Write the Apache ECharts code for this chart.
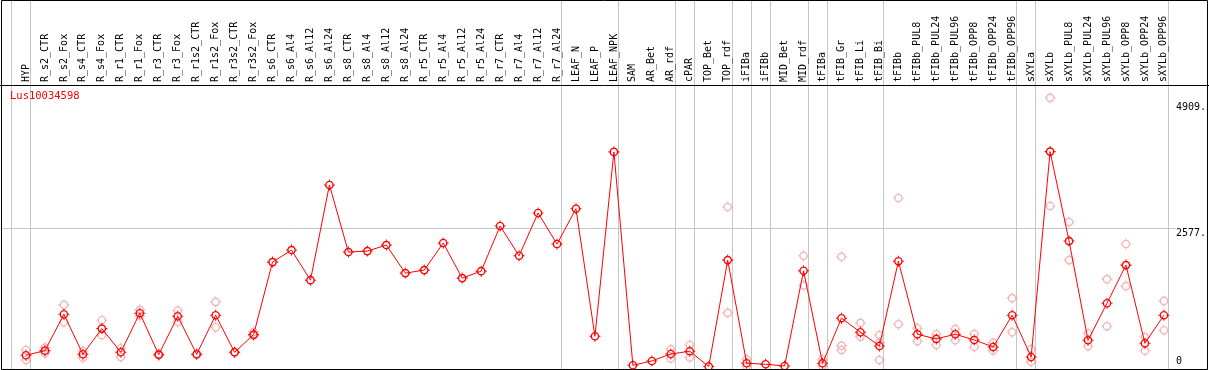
<!DOCTYPE html>
<html>
<head>
<meta charset="utf-8">
<script src="https://cdn.jsdelivr.net/npm/echarts@6/dist/echarts.min.js"></script>
<style>
html,body{margin:0;padding:0;background:#fff;}
#chart{width:1209px;height:370px;}
</style>
</head>
<body>
<div id="chart"></div>
<script>
const geneId = 'Lus10034598';
const categories = ['HYP','R_s2_CTR','R_s2_Fox','R_s4_CTR','R_s4_Fox','R_r1_CTR','R_r1_Fox','R_r3_CTR','R_r3_Fox','R_r1s2_CTR','R_r1s2_Fox','R_r3s2_CTR','R_r3s2_Fox','R_s6_CTR','R_s6_Al4','R_s6_Al12','R_s6_Al24','R_s8_CTR','R_s8_Al4','R_s8_Al12','R_s8_Al24','R_r5_CTR','R_r5_Al4','R_r5_Al12','R_r5_Al24','R_r7_CTR','R_r7_Al4','R_r7_Al12','R_r7_Al24','LEAF_N','LEAF_P','LEAF_NPK','SAM','AR_Bet','AR_rdf','cPAR','TOP_Bet','TOP_rdf','iFIBa','iFIBb','MID_Bet','MID_rdf','tFIBa','tFIB_Gr','tFIB_Li','tFIB_Bi','tFIBb','tFIBb_PUL8','tFIBb_PUL24','tFIBb_PUL96','tFIBb_OPP8','tFIBb_OPP24','tFIBb_OPP96','sXYLa','sXYLb','sXYLb_PUL8','sXYLb_PUL24','sXYLb_PUL96','sXYLb_OPP8','sXYLb_OPP24','sXYLb_OPP96'];
const meanValues = [209,295,973,228,705,265,992,220,936,228,955,265,593,1943,2167,1607,3379,2130,2148,2260,1738,1794,2298,1645,1775,2615,2061,2857,2279,2937,563,3995,22,103,233,283,0,1980,60,41,9,1781,60,899,638,382,1960,600,513,600,494,364,955,177,4000,2334,488,1178,1887,432,955];
const rep1 = [308,351,1147,289,862,339,1054,230,1041,235,1203,270,643,null,null,null,null,null,null,null,null,null,null,null,null,null,null,null,null,null,null,null,null,null,321,401,null,2969,134,null,null,2061,134,2042,811,587,3136,712,606,699,606,444,1272,321,5001,2689,619,1626,2279,550,1221];
const rep2 = [121,246,824,164,582,177,940,210,830,221,731,260,569,null,null,null,null,null,null,null,null,null,null,null,null,null,null,null,null,null,null,null,null,null,150,168,null,998,0,null,null,1507,9,388,556,444,787,470,401,489,364,295,638,90,2987,1980,377,750,1496,295,675];
const rep3 = [null,null,null,null,null,null,null,null,null,null,null,null,null,null,null,null,null,null,null,null,null,null,null,null,null,null,null,null,null,null,null,null,null,null,null,null,null,null,null,null,null,null,null,308,null,121,null,null,null,null,null,null,null,null,null,null,null,null,null,null,null];
const yTickValues = [2577, 4909];
const yZeroTick = [0];
const groupEnds = [0, 28, 31, 34, 35, 37, 38, 39, 41, 42, 45, 52, 53, 60];

const markerPath = 'path://M2.8 11A8.2 8.2 0 1 1 19.2 11A8.2 8.2 0 1 1 2.8 11ZM5.4 11A5.6 5.6 0 1 0 16.6 11A5.6 5.6 0 1 0 5.4 11ZM10 0.5H12V3.5H10ZM10 18.5H12V21.5H10ZM0.5 10H3.5V12H0.5ZM18.5 10H21.5V12H18.5Z';
const FONT = 'DejaVu Sans Mono';
const YMIN = -47, YMAX = 5240;

const chart = echarts.init(document.getElementById('chart'), null, {renderer: 'canvas'});

function repSeries(arr) {
  return {
    type: 'scatter',
    data: arr.map(v => v === null ? '-' : v),
    symbol: markerPath,
    symbolSize: 11,
    symbolKeepAspect: true,
    itemStyle: {color: '#eea3a3'},
    silent: true,
    z: 2
  };
}

const yAxisBase = {
  type: 'value', position: 'right', min: YMIN, max: YMAX,
  axisLine: {show: false}, axisTick: {show: false}, splitLine: {show: false}
};

chart.setOption({
  animation: false,
  backgroundColor: '#fff',
  grid: {left: 26, right: 43, top: 85, bottom: 1, containLabel: false},
  xAxis: {
    type: 'category', data: categories, position: 'top', boundaryGap: false,
    axisLine: {show: false}, axisTick: {show: false}, splitLine: {show: false},
    axisLabel: {interval: 0, rotate: 90, margin: 3, fontFamily: FONT, fontSize: 10, color: '#000'}
  },
  yAxis: [
    Object.assign({}, yAxisBase, {
      axisLabel: {customValues: yTickValues, margin: 12, verticalAlign: 'top', align: 'left',
        fontFamily: FONT, fontSize: 10, color: '#000', formatter: v => v + '.'}
    }),
    Object.assign({}, yAxisBase, {
      axisLabel: {customValues: yZeroTick, margin: 12, verticalAlign: 'bottom', align: 'left',
        fontFamily: FONT, fontSize: 10, color: '#000', formatter: v => String(v)}
    })
  ],
  series: [
    repSeries(rep1), repSeries(rep2), repSeries(rep3),
    {
      type: 'line', data: meanValues,
      symbol: markerPath, symbolSize: 11, symbolKeepAspect: true, showAllSymbol: true,
      lineStyle: {color: '#ff0000', width: 1},
      itemStyle: {color: '#ff0000'},
      z: 5, silent: true
    }
  ]
});

// decorations placed through the chart's own scales
const W = 1209, H = 370;
const step = chart.convertToPixel({xAxisIndex: 0}, 1) - chart.convertToPixel({xAxisIndex: 0}, 0);
const gridRight = chart.convertToPixel({xAxisIndex: 0}, categories.length - 1);
const gridTop = chart.convertToPixel({yAxisIndex: 0}, YMAX);
const gy = Math.round(chart.convertToPixel({yAxisIndex: 0}, 2577)) + 0.5;
const gray = '#c6c6c6';
const graphics = [];
function line(x1, y1, x2, y2, color, z) {
  graphics.push({type: 'line', silent: true, z: z || 0, shape: {x1, y1, x2, y2}, style: {stroke: color, lineWidth: 1}});
}
// group separators
const sepX = [Math.round(chart.convertToPixel({xAxisIndex: 0}, 0) - step) + 4.5];
groupEnds.forEach(k => sepX.push(Math.round(chart.convertToPixel({xAxisIndex: 0}, k)) + 4.5));
sepX.forEach(x => line(x, 0, x, H, gray, 0));
// horizontal grid line at 2577
line(1, gy, Math.round(gridRight) + 12, gy, gray, 0);
// frame
line(0, Math.round(gridTop) + 0.5, W, Math.round(gridTop) + 0.5, '#000', 10);
graphics.push({type: 'rect', silent: true, z: 10, shape: {x: 1.5, y: 0.5, width: W - 3, height: H - 1}, style: {fill: null, stroke: '#000', lineWidth: 1}});
// gene id
graphics.push({type: 'text', silent: true, z: 10, left: 10, top: 91, style: {text: geneId, fill: '#ff0000', font: '10.5px "DejaVu Sans Mono"'}});
chart.setOption({graphic: graphics});
</script>
</body>
</html>
